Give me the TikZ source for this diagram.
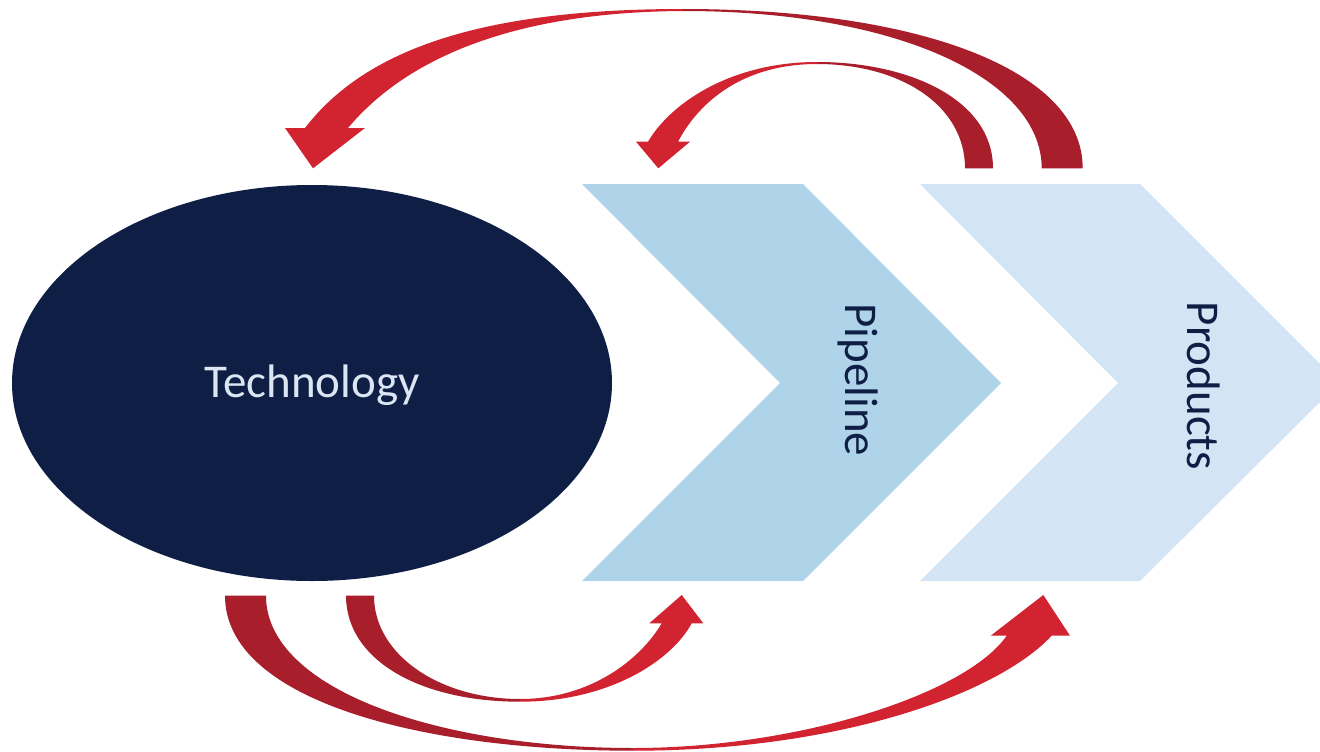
\documentclass[tikz,border=0pt]{standalone}
\usepackage{fontspec}
\setmainfont{Carlito}
\definecolor{navy}{RGB}{14,30,69}
\definecolor{chevA}{RGB}{175,212,233}
\definecolor{chevB}{RGB}{211,228,244}
\definecolor{redA}{RGB}{210,35,48}
\definecolor{redB}{RGB}{168,30,43}
\definecolor{techtext}{RGB}{220,230,242}
\tikzset{
  bright/.style={fill=redA, draw=none},
  dark/.style={fill=redB, draw=none},
  lbl/.style={inner sep=0pt, font=\fontsize{47}{51}\selectfont},
}
\begin{document}
\begin{tikzpicture}[x=1pt,y=-1pt]
\useasboundingbox (0,0) rectangle (1320,752);
% shapes
\fill[navy] (312,383) ellipse [x radius=300, y radius=198];
\fill[chevA] (582,184) -- (803,184) -- (1001,383) -- (803,581) -- (582,581) -- (780,383) -- cycle;
\fill[chevB] (920,184) -- (1140,184) -- (1320,364) -- (1320,402) -- (1140,581) -- (920,581) -- (1118,383) -- cycle;
% labels
\node[lbl, text=techtext] (tech) at (312,385) {Technology};
\node[lbl, text=navy, rotate=-90] (pipe) at (858,380) {Pipeline};
\node[lbl, text=navy, rotate=-90] (prod) at (1204,386) {Products};
% top outer arrow (Products -> Technology)
\path[dark] (1082.7,168.3) .. controls (1082.7,70) and (920,9) .. (683,9)
  -- (683,11) .. controls (900,11) and (1041.7,80) .. (1041.7,168.3) -- cycle;
\path[bright] (683,9) .. controls (480,9) and (365,50) .. (305,128)
  -- (285,128) -- (313,168.3) -- (365,128) -- (348,128)
  .. controls (405,60) and (510,12) .. (683,11) -- cycle;
% top inner arrow (Products -> Pipeline)
\path[dark] (993,168.3) .. controls (993,100) and (910,62) .. (817,62)
  -- (817,64) .. controls (900,64) and (965,105) .. (965,168.3) -- cycle;
\path[bright] (817,62) .. controls (730,62) and (670,104) .. (648,141.7)
  -- (636,141.7) -- (658.3,168.3) -- (690,141.7) -- (678,141.7)
  .. controls (700,100) and (745,64) .. (817,64) -- cycle;
% bottom inner arrow (Technology -> Pipeline)
\path[dark] (346,595.7) .. controls (346,660) and (420,701.7) .. (520,701.7)
  -- (520,699) .. controls (440,699) and (374,655) .. (374,595.7) -- cycle;
\path[bright] (520,701.7) .. controls (610,701.7) and (672,660) .. (691.7,623.3)
  -- (703.3,623.3) -- (681.7,595) -- (649.3,623.3) -- (661.7,623.3)
  .. controls (640,660) and (590,699) .. (520,699) -- cycle;
% bottom outer arrow (Technology -> Products)
\path[dark] (225,595.7) .. controls (225,700) and (420,750.7) .. (633,750.7)
  -- (633,748) .. controls (440,748) and (266,690) .. (266,595.7) -- cycle;
\path[bright] (633,750.7) .. controls (840,750.7) and (997.7,693.6) .. (1051.7,635.7)
  -- (1070,635.7) -- (1043.3,595) -- (990.7,635.7) -- (1006.7,635.7)
  .. controls (966.5,693.6) and (800,748) .. (633,748) -- cycle;
\end{tikzpicture}
\end{document}
